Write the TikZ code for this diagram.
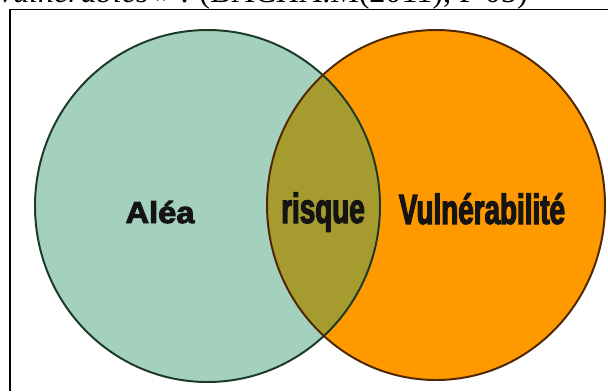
\documentclass[tikz,border=0pt]{standalone}
\usepackage{fontspec}
\setmainfont{Liberation Serif}
\newfontfamily\narrowfont[FakeStretch=0.66,FakeBold=2.6]{Liberation Sans Bold}
\newfontfamily\widefont[FakeStretch=1.08,FakeBold=3.2]{Liberation Sans Bold}
\definecolor{aleafill}{RGB}{163,209,189}
\definecolor{vulnfill}{RGB}{255,153,0}
\definecolor{risqfill}{RGB}{166,155,46}
\definecolor{aleadraw}{RGB}{28,58,38}
\definecolor{vulndraw}{RGB}{78,40,5}

\begin{document}
\begin{tikzpicture}[x=0.025cm,y=-0.025cm,
  word/.style={anchor=base,inner sep=0pt,text=black!92}]
  \useasboundingbox (0,0) rectangle (608,391);
  \node[anchor=base east,inner sep=0pt,font=\fontsize{22.8}{24}\selectfont] (source) at (528,2.5)
    {\textit{vulnérables »} . (BACHA.M(2011), P 05)};
  \draw[line width=1.4pt] (10,391) -- (10,9.5) -- (608,9.5);
  \fill[aleafill] (207.5,206) ellipse (172.5 and 176);
  \fill[vulnfill] (436,205) ellipse (169 and 175);
  \begin{scope}
    \clip (207.5,206) ellipse (172.5 and 176);
    \fill[risqfill] (436,205) ellipse (169 and 175);
  \end{scope}
  \draw[aleadraw,line width=1.4pt] (207.5,206) ellipse (172.5 and 176);
  \draw[vulndraw,line width=1.4pt] (436,205) ellipse (169 and 175);
  \node[word,font=\widefont\fontsize{21.5}{22}\selectfont] (alea) at (160,223) {Aléa};
  \node[word,font=\narrowfont\fontsize{30}{30}\selectfont] (risque) at (323,223) {risque};
  \node[word,font=\narrowfont\fontsize{30}{30}\selectfont] (vuln) at (482,224) {Vulnérabilité};
\end{tikzpicture}
\end{document}
